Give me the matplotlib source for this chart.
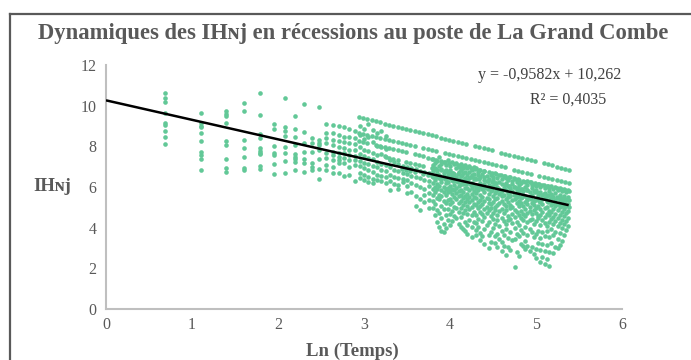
import matplotlib
matplotlib.use('Agg')
import matplotlib.pyplot as plt
from matplotlib.lines import Line2D

plt.rcParams['font.family'] = ['Liberation Serif', 'DejaVu Serif']

# ---------------- data ----------------
title = "Dynamiques des IHɴj en récessions au poste de La Grand Combe"
x_label = "Ln (Temps)"
y_label = "IHɴj"
eq_text = "y = -0,9582x + 10,262"
r2_text = "R² = 0,4035"
trend_slope = -0.9582
trend_intercept = 10.262

# early days: one column of points per Ln(t)
left_x = [0.69, 1.10, 1.39, 1.61, 1.79, 1.95, 2.08, 2.20, 2.30, 2.40, 2.48,
          2.56, 2.64, 2.71, 2.77, 2.83, 2.89]
left_y = [
    [10.64, 10.39, 10.20, 9.63, 9.13, 9.05, 8.76, 8.48, 8.13],
    [9.66, 9.13, 9.02, 8.94, 8.64, 8.26, 7.74, 7.57, 7.38, 6.84],
    [9.74, 9.61, 9.51, 9.16, 8.28, 8.07, 7.38, 6.95, 6.72],
    [10.15, 9.75, 8.31, 7.90, 7.49, 6.95, 6.84],
    [10.64, 9.56, 8.59, 8.40, 7.90, 7.79, 7.69, 7.61, 7.05, 6.89],
    [9.08, 8.87, 8.03, 7.69, 7.57, 7.12, 6.63],
    [10.39, 8.97, 8.76, 8.52, 7.95, 7.69, 7.29, 6.69],
    [9.51, 8.84, 8.45, 8.07, 7.62, 7.49, 7.38, 7.21, 6.84],
    [10.08, 8.72, 8.15, 7.74, 7.36, 7.17, 6.75],
    [8.40, 8.15, 7.74, 7.17, 7.00, 6.84],
    [9.92, 8.31, 8.18, 8.07, 7.82, 7.36, 6.87, 6.38],
    [9.10, 8.67, 8.43, 8.18, 7.66, 7.41, 7.08, 6.84],
    [9.05, 8.64, 8.31, 8.07, 7.74, 7.57, 7.33, 7.00, 6.67],
    [9.00, 8.56, 8.28, 7.98, 7.66, 7.49, 7.33, 7.17, 6.67],
    [8.94, 8.48, 8.23, 7.90, 7.66, 7.41, 7.17, 6.54],
    [8.84, 8.45, 8.18, 7.82, 7.57, 7.33, 7.00, 6.59],
    [8.77, 8.40, 8.12, 7.82, 7.53, 7.33, 7.08, 6.30],
]

# long recessions: dotted bands sharing one Ln(t) grid (None = gap)
band_x = [2.94, 2.99, 3.04, 3.09, 3.14, 3.19, 3.24, 3.29, 3.34, 3.39,
          3.44, 3.49, 3.54, 3.59, 3.64, 3.69, 3.74, 3.79, 3.84, 3.89,
          3.94, 3.99, 4.04, 4.09, 4.14, 4.19, 4.24, 4.29, 4.34, 4.39,
          4.44, 4.49, 4.54, 4.59, 4.64, 4.69, 4.74, 4.79, 4.84, 4.89,
          4.94, 4.99, 5.04, 5.09, 5.14, 5.19, 5.24, 5.29, 5.34, 5.38]
band_1 = [9.44, 9.39, 9.33, 9.28, 9.23, 9.18, 9.12, 9.07, 9.02, 8.96,
          8.91, 8.86, 8.80, 8.75, 8.70, 8.65, 8.59, 8.54, 8.49, 8.43,
          8.38, 8.33, 8.27, 8.22, 8.17, 8.12, None, 8.01, 7.96, 7.90,
          7.85, 7.80, None, 7.69, 7.64, 7.59, 7.53, 7.48, 7.43, 7.37,
          7.32, 7.27, None, 7.16, 7.11, 7.06, 7.00, 6.95, 6.90, 6.86]
band_2 = [8.68, 8.63, 8.58, 8.53, 8.48, 8.43, 8.38, 8.33, 8.28, 8.23,
          8.18, 8.12, 8.07, 8.02, None, 7.92, 7.87, 7.82, 7.77, None,
          7.67, 7.62, 7.57, 7.52, 7.47, 7.42, 7.37, 7.32, 7.27, 7.22,
          7.17, 7.11, 7.06, 7.01, 6.96, None, 6.86, 6.81, 6.76, 6.71,
          6.66, None, 6.56, 6.51, 6.46, 6.41, 6.36, 6.31, 6.26, 6.22]
band_3 = [8.25, 8.20, 8.15, None, 8.05, 8.00, 7.95, 7.90, 7.85, 7.80,
          7.75, 7.70, None, 7.60, 7.55, 7.50, 7.45, 7.40, 7.35, 7.30,
          7.25, 7.20, None, 7.10, 7.05, 7.00, 6.95, 6.90, 6.85, 6.80,
          None, 6.70, 6.65, 6.60, 6.55, 6.50, 6.45, 6.40, None, 6.30,
          6.25, 6.20, 6.15, 6.10, 6.05, None, 5.95, 5.90, 5.85, 5.81]
band_4 = [None, None, None, None, None, None, 7.50, 7.45, 7.40, 7.35,
          None, 7.25, 7.20, 7.15, 7.10, 7.05, None, 6.95, 6.90, 6.85,
          6.80, 6.75, 6.70, 6.65, 6.60, None, 6.50, 6.45, 6.40, 6.35,
          6.30, 6.25, 6.20, None, 6.10, 6.05, 6.00, 5.95, 5.90, 5.85,
          None, 5.75, 5.70, 5.65, 5.60, 5.55, 5.50, 5.45, 5.40, 5.36]
band_5 = [None, None, None, None, None, None, None, None, None, None,
          6.87, 6.82, 6.77, 6.73, None, 6.63, 6.58, 6.53, 6.49, 6.44,
          6.39, None, 6.29, 6.25, 6.20, 6.15, 6.10, None, 6.01, 5.96,
          5.91, 5.86, 5.81, 5.77, None, 5.67, 5.62, 5.57, 5.53, 5.48,
          5.43, 5.38, 5.33, None, 5.24, 5.19, 5.14, 5.09, 5.05, 5.01]

# scattered short recessions: columns of points per Ln(t)
cloud_x = [2.95, 3.00, 3.05, 3.10, 3.15, 3.20, 3.25, 3.30, 3.35, 3.40,
           3.45, 3.50, 3.55, 3.60, 3.65, 3.70, 3.75,
           3.800, 3.825, 3.850, 3.875, 3.900, 3.925, 3.950, 3.975,
           4.000, 4.025, 4.050, 4.075, 4.100, 4.125, 4.150, 4.175,
           4.200, 4.225, 4.250, 4.275, 4.300, 4.325, 4.350, 4.375,
           4.400, 4.425, 4.450, 4.475, 4.500, 4.525, 4.550, 4.575,
           4.600, 4.625, 4.650, 4.675, 4.700, 4.725, 4.750, 4.775,
           4.800, 4.825, 4.850, 4.875, 4.900, 4.925, 4.950, 4.975,
           5.000, 5.025, 5.050, 5.075, 5.100, 5.125, 5.150, 5.175,
           5.200, 5.225, 5.250, 5.275, 5.300, 5.325, 5.350, 5.375]
cloud_y = [
    [9.02, 8.55, 7.95, 7.61, 7.28, 7.05, 6.71, 6.44],
    [8.87, 8.35, 7.84, 7.52, 7.19, 6.94, 6.58, 6.33],
    [9.11, 8.46, 7.77, 7.42, 7.13, 6.86, 6.49, 6.26],
    [8.79, 8.21, 7.68, 7.36, 7.02, 6.74, 6.41, 6.21],
    [8.66, 8.04, 7.56, 7.24, 6.96, 6.61, 6.36],
    [8.74, 7.99, 7.61, 7.14, 6.83, 6.54, 6.31],
    [8.52, 7.88, 7.46, 7.09, 6.79, 6.47, 6.19],
    [7.31, 6.96, 6.61, 6.28, 5.84],
    [7.22, 6.83, 6.49, 6.14],
    [7.13, 6.78, 6.44, 6.11, 5.91],
    [7.04, 6.69, 6.41, 6.26],
    [6.98, 6.62, 6.33, 6.04, 5.71],
    [6.93, 6.56, 6.19, 5.76],
    [6.88, 6.47, 6.09, 5.56, 5.06],
    [6.81, 6.43, 6.01, 5.41, 4.89],
    [6.74, 6.36, 5.92, 5.61, 5.24],
    [6.69, 6.29, 6.04, 5.69, 5.34, 4.96],
    [7.38, 7.06, 6.77, 6.48, 6.21, 5.89, 5.61, 5.33, 4.97],
    [7.17, 6.93, 6.54, 6.36, 5.98, 5.74, 5.18, 4.63],
    [7.29, 6.82, 6.67, 6.13, 5.91, 5.47, 4.86, 4.27],
    [7.46, 7.01, 6.58, 6.44, 6.06, 5.62, 5.39, 4.71, 4.02],
    [7.12, 6.89, 6.41, 6.26, 5.83, 5.56, 5.09, 4.46, 3.86],
    [7.24, 6.71, 6.52, 6.02, 5.77, 5.31, 4.93, 4.18, 3.79],
    [7.09, 6.84, 6.38, 6.19, 5.88, 5.62, 5.22, 4.61, 3.97],
    [7.31, 6.73, 6.61, 6.26, 5.97, 5.74, 5.36, 4.92, 4.39],
    [7.04, 6.86, 6.42, 6.07, 5.79, 5.43, 5.16, 4.68, 4.12],
    [7.23, 6.71, 6.57, 6.33, 5.92, 5.67, 5.28, 4.83, 4.34],
    [7.12, 6.64, 6.48, 6.12, 5.86, 5.53, 5.02, 4.57],
    [7.18, 6.93, 6.51, 6.28, 5.96, 5.72, 5.42, 4.98, 4.47],
    [6.98, 6.76, 6.37, 6.03, 5.82, 5.57, 5.21, 4.77, 4.19],
    [7.13, 6.82, 6.54, 6.17, 5.84, 5.63, 5.32, 4.96, 4.53, 4.02],
    [6.91, 6.69, 6.32, 6.14, 5.73, 5.47, 5.13, 4.74, 3.91],
    [7.06, 6.72, 6.46, 6.22, 5.93, 5.58, 5.24, 4.86, 4.28, 3.82],
    [6.94, 6.58, 6.33, 5.97, 5.68, 5.41, 5.07, 4.66, 4.13, 3.71],
    [7.02, 6.74, 6.43, 6.18, 5.87, 5.52, 5.27, 4.91, 4.38],
    [6.83, 6.57, 6.22, 5.96, 5.64, 5.37, 5.03, 4.62, 4.01, 3.52],
    [6.97, 6.63, 6.41, 6.08, 5.81, 5.49, 5.18, 4.79, 4.26],
    [6.91, 6.38, 5.97, 5.44, 5.71, 5.12, 4.63, 4.21, 3.88, 3.62],
    [6.57, 6.74, 6.12, 5.28, 5.83, 4.97, 4.44, 4.02],
    [6.83, 6.22, 6.49, 5.61, 5.06, 5.36, 4.79, 3.74, 3.41],
    [6.66, 6.04, 5.89, 5.52, 5.18, 4.68, 4.33, 3.57],
    [6.79, 6.47, 5.76, 6.16, 5.33, 4.91, 4.52, 3.93, 3.19],
    [6.54, 6.28, 5.94, 5.48, 5.02, 4.74, 4.12],
    [6.72, 6.11, 6.39, 5.67, 5.21, 5.41, 4.86, 4.27, 3.66, 3.02],
    [6.61, 5.98, 5.81, 5.14, 4.59, 4.96, 3.81, 3.28],
    [6.49, 6.33, 6.07, 5.56, 5.27, 4.72, 4.41, 3.97],
    [6.68, 6.18, 5.72, 5.39, 4.88, 5.04, 4.17, 3.58, 3.24],
    [6.42, 6.02, 5.87, 5.46, 5.11, 4.63, 4.37, 3.71, 3.03],
    [6.59, 6.26, 5.66, 5.91, 5.22, 4.81, 4.06, 3.46],
    [6.37, 6.13, 5.79, 5.31, 5.58, 4.94, 4.47, 3.86, 3.29, 2.83],
    [6.52, 5.96, 5.62, 5.17, 4.71, 4.32, 3.63, 3.12],
    [6.44, 6.21, 5.84, 5.41, 5.07, 4.86, 4.18, 3.92, 2.66],
    [6.33, 6.06, 5.71, 5.49, 5.26, 4.58, 4.39, 3.51, 3.07],
    [6.47, 5.93, 5.57, 5.12, 4.97, 4.43, 3.79, 2.91],
    [6.29, 6.14, 5.78, 5.36, 5.02, 4.69, 4.21, 3.38],
    [6.41, 5.99, 5.64, 5.43, 4.88, 4.52, 3.96, 3.44, 2.08],
    [6.26, 5.86, 5.52, 5.19, 4.77, 4.29, 3.67, 2.79],
    [6.36, 6.08, 5.74, 5.31, 5.06, 4.61, 4.12, 3.57, 2.61],
    [6.19, 5.91, 5.46, 5.23, 4.83, 4.48, 3.88, 3.21],
    [6.31, 5.81, 5.62, 5.08, 4.69, 4.36, 3.74, 3.09],
    [6.23, 6.01, 5.54, 5.28, 4.92, 4.57, 4.02, 3.36, 2.96],
    [6.12, 5.87, 5.38, 5.14, 4.74, 4.26, 3.62, 3.11],
    [6.27, 5.73, 5.49, 5.02, 4.81, 4.39, 3.91, 2.86],
    [6.09, 5.94, 5.61, 5.21, 4.66, 4.43, 3.78, 3.04],
    [6.17, 5.78, 5.33, 5.11, 4.87, 4.18, 3.54, 2.71],
    [6.06, 5.84, 5.42, 4.96, 4.72, 4.31, 3.69, 2.94, 2.51],
    [6.14, 5.69, 5.56, 5.09, 4.58, 4.47, 3.86, 3.26],
    [6.01, 5.76, 5.27, 4.91, 4.63, 4.12, 3.48, 2.88, 2.31],
    [6.11, 5.62, 5.39, 5.16, 4.79, 4.36, 3.77, 3.19, 2.56],
    [5.97, 5.71, 5.47, 4.99, 4.54, 4.23, 3.61, 2.86, 2.21],
    [6.07, 5.58, 5.31, 5.04, 4.69, 4.08, 3.83, 3.14, 2.46],
    [5.93, 5.79, 5.36, 4.84, 4.61, 4.28, 3.53, 2.79, 2.11],
    [6.03, 5.64, 5.44, 5.12, 4.76, 4.41, 3.94, 3.24],
    [5.88, 5.52, 5.23, 4.93, 4.52, 4.17, 3.66, 2.76],
    [5.99, 5.71, 5.34, 5.07, 4.68, 4.33, 3.81, 3.06],
    [5.84, 5.46, 5.18, 4.86, 4.47, 4.06, 3.42, 3.01],
    [5.94, 5.59, 5.29, 5.01, 4.61, 4.24, 3.72, 3.14],
    [5.79, 5.41, 5.13, 4.78, 4.39, 3.98, 3.36],
    [5.89, 5.56, 5.26, 4.94, 4.57, 4.19, 3.64],
    [5.74, 5.37, 5.08, 4.71, 4.33, 3.89],
    [5.83, 5.49, 5.17, 4.83, 4.48, 4.07],
]

x_ticks = [0, 1, 2, 3, 4, 5, 6]
y_ticks = [0, 2, 4, 6, 8, 10, 12]

# ---------------- assemble points ----------------
pts_x, pts_y = [], []
for x, col in zip(left_x, left_y):
    for v in col:
        pts_x.append(x); pts_y.append(v)
for band in (band_1, band_2, band_3, band_4, band_5):
    for x, v in zip(band_x, band):
        if v is not None:
            pts_x.append(x); pts_y.append(v)
for x, col in zip(cloud_x, cloud_y):
    for v in col:
        pts_x.append(x); pts_y.append(v)

# ---------------- figure ----------------
W, H = 691, 360
fig = plt.figure(figsize=(W / 100, H / 100), dpi=100)
ax = fig.add_axes([106 / W, 1 - 309 / H, (622 - 106) / W, (309 - 65) / H])

ax.scatter(pts_x, pts_y, s=11, c='#62C897', linewidths=0, zorder=2)

x_end = max(pts_x)
ax.plot([0, x_end], [trend_intercept, trend_intercept + trend_slope * x_end],
        color='black', lw=1.8, zorder=3, solid_capstyle='butt')

ax.set_xlim(0, 6)
ax.set_ylim(0, 12)
ax.set_xticks(x_ticks)
ax.set_yticks(y_ticks)
for s in ('top', 'right'):
    ax.spines[s].set_visible(False)
for s in ('left', 'bottom'):
    ax.spines[s].set_color('#BFBFBF')
    ax.spines[s].set_linewidth(1.5)
ax.tick_params(length=0, labelsize=11.5, labelcolor='#595959')
ax.tick_params(axis='x', pad=6)
ax.tick_params(axis='y', pad=7)

fig.text(353 / W, 1 - 33 / H, title, ha='center', va='center',
         fontsize=16.3, fontweight='bold', color='#595959')
fig.text(52 / W, 1 - 186 / H, y_label, ha='center', va='center',
         fontsize=13.5, fontweight='bold', color='#595959')
fig.text(352 / W, 1 - 351 / H, x_label, ha='center', va='center',
         fontsize=13.5, fontweight='bold', color='#595959')
fig.text(478 / W, 1 - 75 / H, eq_text, ha='left', va='center',
         fontsize=11.5, color='#404040')
fig.text(530 / W, 1 - 100 / H, r2_text, ha='left', va='center',
         fontsize=11.5, color='#404040')

# outer chart frame (left and top edges visible)
fig.add_artist(Line2D([9.5 / W, 9.5 / W], [0, 1 - 14 / H],
                      transform=fig.transFigure, color='#595959', lw=1.6))
fig.add_artist(Line2D([9.5 / W, 1], [1 - 14 / H, 1 - 14 / H],
                      transform=fig.transFigure, color='#595959', lw=1.6))

fig.savefig('out.png', dpi=100)
